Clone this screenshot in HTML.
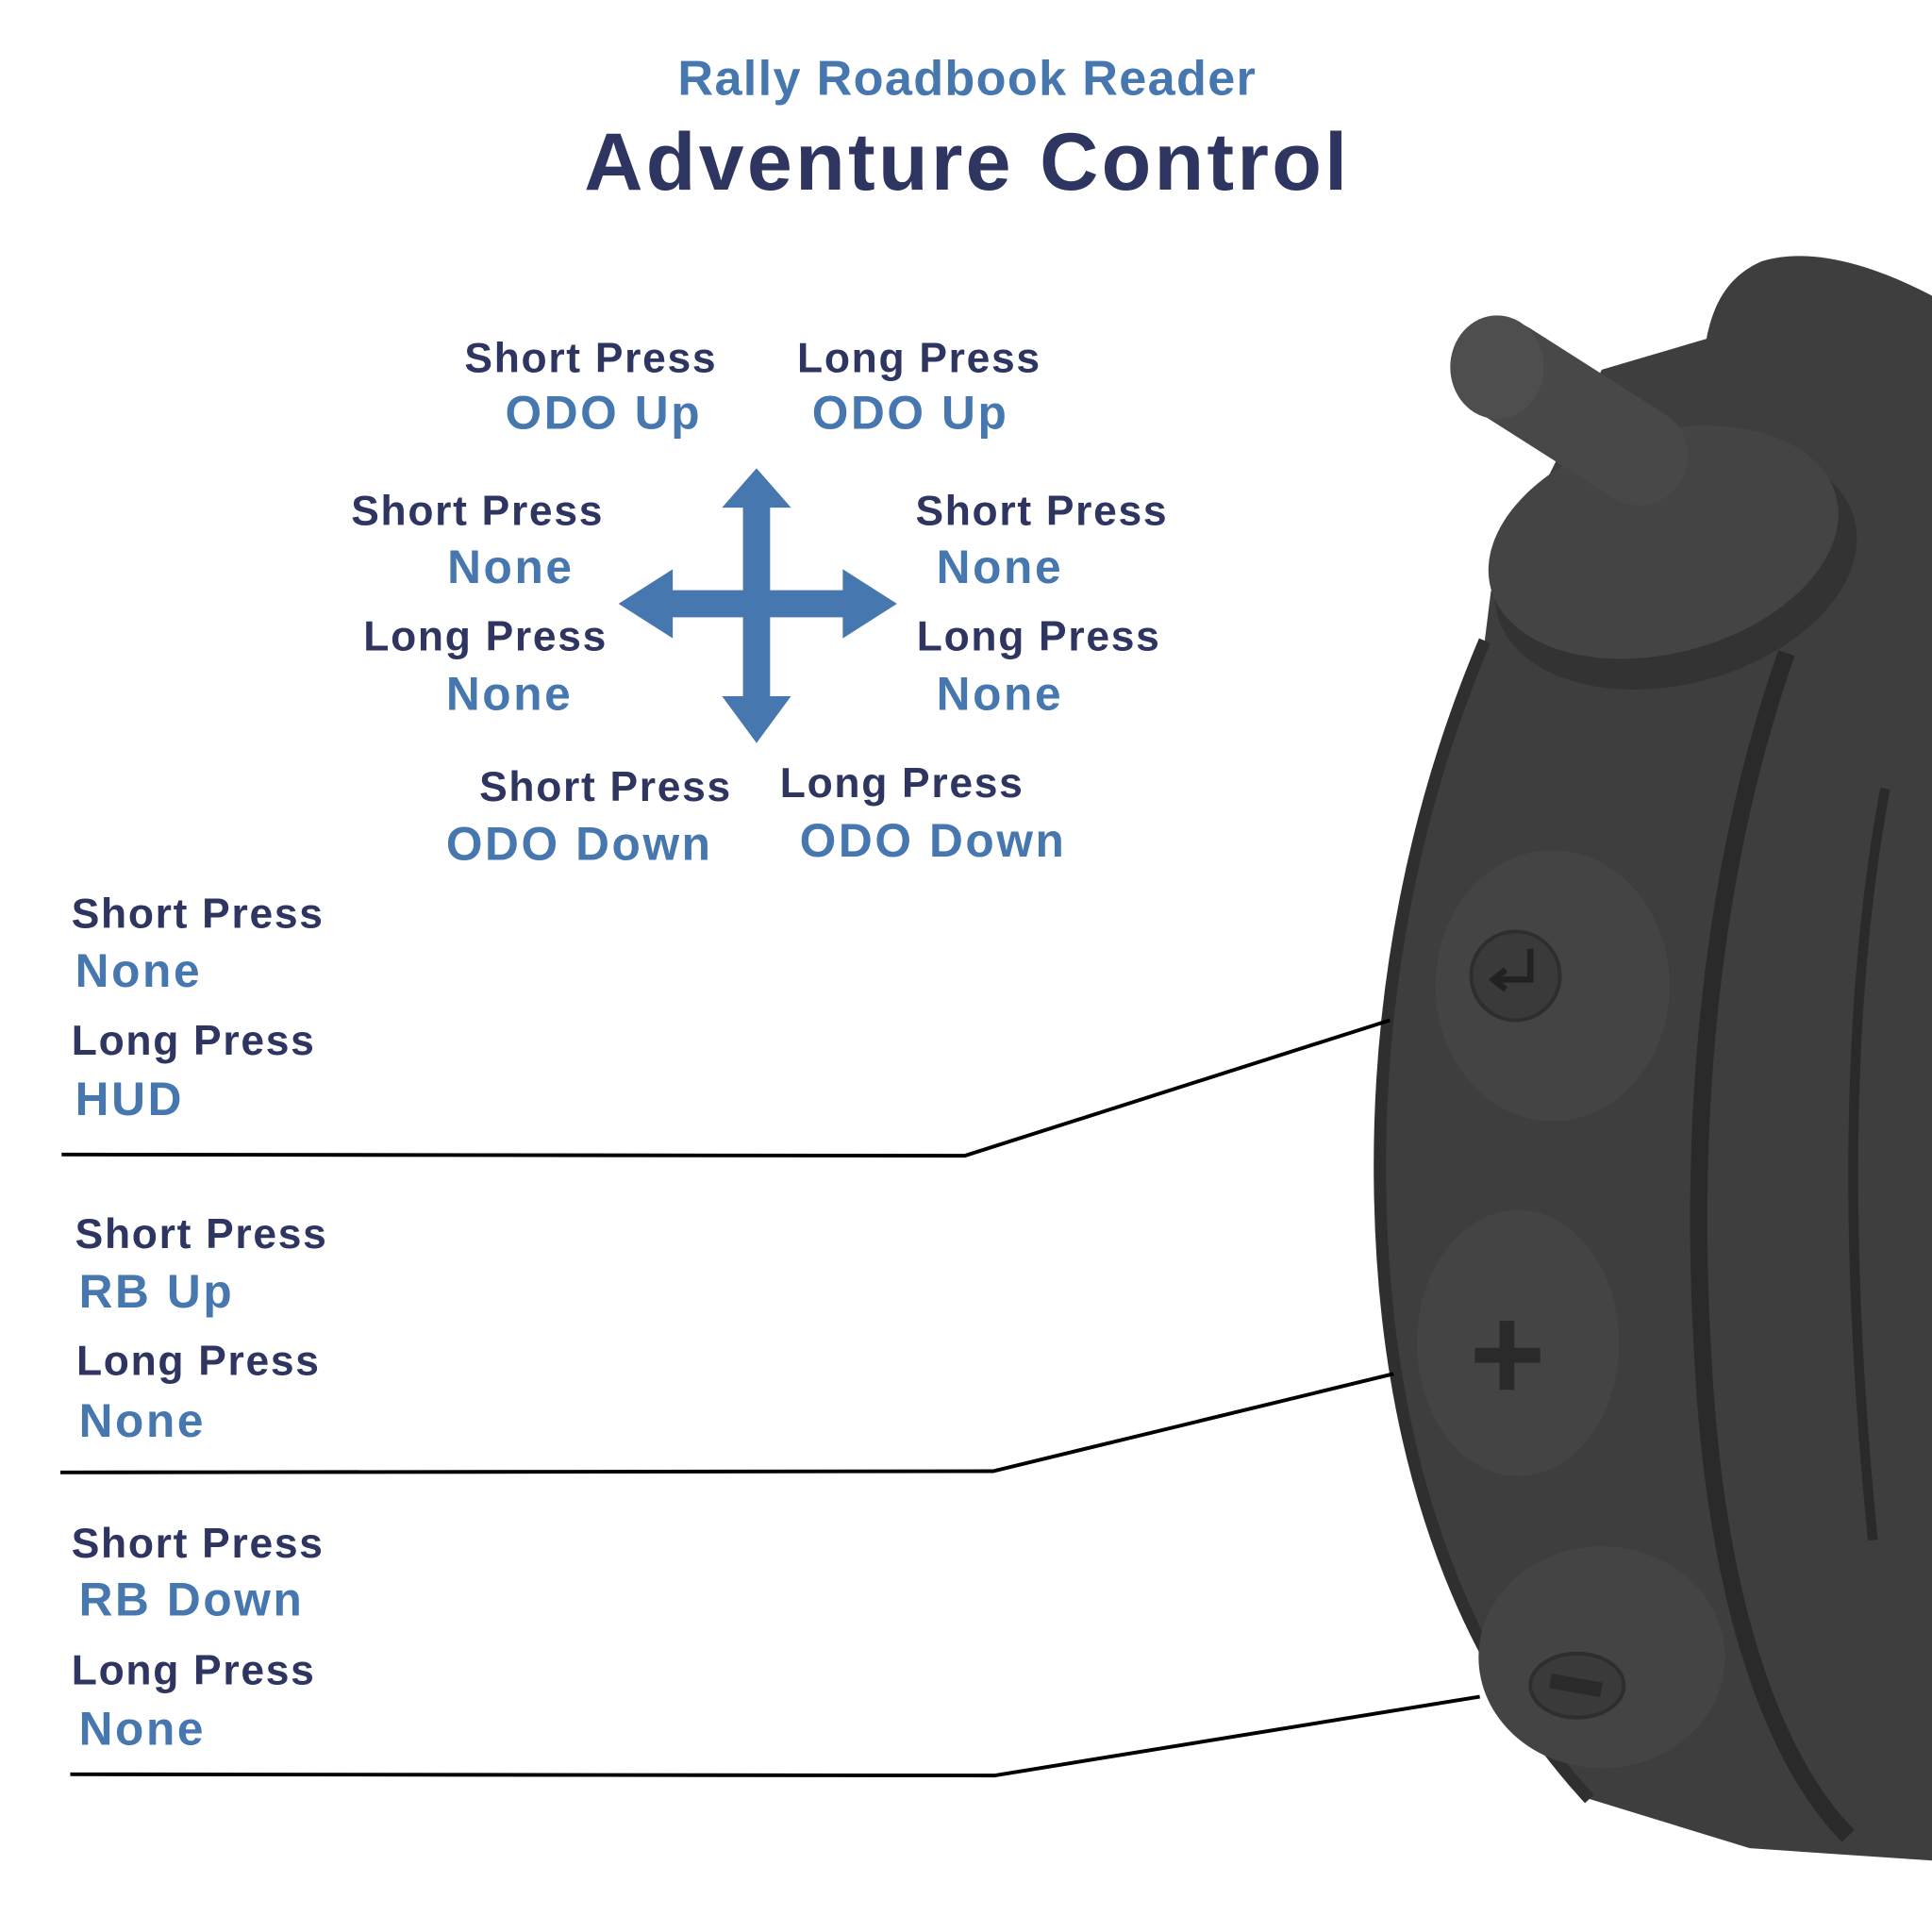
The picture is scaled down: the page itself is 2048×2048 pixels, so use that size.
<!DOCTYPE html>
<html><head><style>html,body{margin:0;padding:0;background:#fff}svg{display:block}
text{font-family:"Liberation Sans",sans-serif;font-weight:bold}
.d{fill:#2e3560;font-size:34px;letter-spacing:1.3px}.b{fill:#4677ae;font-size:38px;letter-spacing:2px}</style></head>
<body>
<svg width="2048" height="2048" viewBox="0 0 1568 1568" xmlns="http://www.w3.org/2000/svg">
<rect width="1568" height="1568" fill="#fff"/>
<text x="785" y="77" text-anchor="middle" fill="#4677ae" font-size="40" letter-spacing="1">Rally Roadbook Reader</text>
<text x="785" y="154" text-anchor="middle" fill="#2e3560" font-size="66" letter-spacing="2.5">Adventure Control</text>

<!-- device -->
<path d="M1205,520 C1150,650 1118,800 1120,960 C1122,1150 1170,1330 1290,1460 L1420,1500 L1568,1510 L1568,240 C1520,215 1470,200 1430,212 C1400,225 1390,250 1385,275 L1300,300 L1210,480 Z" fill="#3e3e3e"/>
<path d="M1450,530 C1390,700 1370,900 1382,1100 C1392,1300 1440,1430 1500,1490" fill="none" stroke="#2a2a2a" stroke-width="14"/>
<path d="M1530,640 C1500,800 1495,1000 1520,1250" fill="none" stroke="#2a2a2a" stroke-width="8"/>
<path d="M1205,520 C1150,650 1118,800 1120,960 C1122,1150 1170,1330 1290,1460" fill="none" stroke="#2f2f2f" stroke-width="10"/>
<ellipse cx="1360" cy="460" rx="150" ry="95" transform="rotate(-15 1360 460)" fill="#333"/>
<ellipse cx="1350" cy="440" rx="145" ry="90" transform="rotate(-15 1350 440)" fill="#444"/>
<line x1="1220" y1="300" x2="1330" y2="370" stroke="#484848" stroke-width="80" stroke-linecap="round"/>
<ellipse cx="1215" cy="298" rx="38" ry="42" fill="#4e4e4e"/>
<ellipse cx="1260" cy="800" rx="95" ry="110" fill="#444"/>
<circle cx="1230" cy="792" r="36" fill="#3a3a3a" stroke="#2e2e2e" stroke-width="3"/>
<path d="M1242,770 V795 H1215 M1222,787 L1212,795 L1222,803" fill="none" stroke="#222" stroke-width="5"/>
<ellipse cx="1232" cy="1090" rx="82" ry="108" fill="#444"/>
<path d="M1223,1072 V1128 M1197,1100 H1250" stroke="#2a2a2a" stroke-width="12"/>
<ellipse cx="1300" cy="1345" rx="100" ry="90" fill="#444"/>
<ellipse cx="1280" cy="1368" rx="38" ry="26" fill="#3a3a3a" stroke="#2e2e2e" stroke-width="3"/>
<rect x="1258" y="1362" width="42" height="12" fill="#2a2a2a" transform="rotate(10 1280 1368)"/>

<!-- arrows -->
<g fill="#4677ae">
<rect x="603" y="410" width="22" height="160"/>
<rect x="530" y="479" width="170" height="22"/>
<polygon points="614,380 642,412 586,412"/>
<polygon points="614,603 642,565 586,565"/>
<polygon points="502,490 546,462 546,518"/>
<polygon points="728,490 684,462 684,518"/>
</g>

<text class="d" x="377" y="302">Short Press</text><text class="b" x="410" y="348">ODO Up</text>
<text class="d" x="647" y="302">Long Press</text><text class="b" x="659" y="348">ODO Up</text>
<text class="d" x="285" y="426">Short Press</text><text class="b" x="363" y="473">None</text>
<text class="d" x="295" y="528">Long Press</text><text class="b" x="362" y="576">None</text>
<text class="d" x="743" y="426">Short Press</text><text class="b" x="760" y="473">None</text>
<text class="d" x="744" y="528">Long Press</text><text class="b" x="760" y="576">None</text>
<text class="d" x="389" y="650">Short Press</text><text class="b" x="362" y="698">ODO Down</text>
<text class="d" x="633" y="647">Long Press</text><text class="b" x="649" y="695">ODO Down</text>

<text class="d" x="58" y="753">Short Press</text><text class="b" x="61" y="801">None</text>
<text class="d" x="58" y="856">Long Press</text><text class="b" x="61" y="905">HUD</text>
<text class="d" x="61" y="1013">Short Press</text><text class="b" x="64" y="1061">RB Up</text>
<text class="d" x="62" y="1116">Long Press</text><text class="b" x="64" y="1166">None</text>
<text class="d" x="58" y="1264">Short Press</text><text class="b" x="64" y="1311">RB Down</text>
<text class="d" x="58" y="1367">Long Press</text><text class="b" x="64" y="1416">None</text>

<g fill="none" stroke="#000" stroke-width="3">
<polyline points="50,937 783,938 1128,828"/>
<polyline points="49,1195 806,1194 1131,1115"/>
<polyline points="57,1440 807,1441 1201,1377"/>
</g>
</svg>
</body></html>
